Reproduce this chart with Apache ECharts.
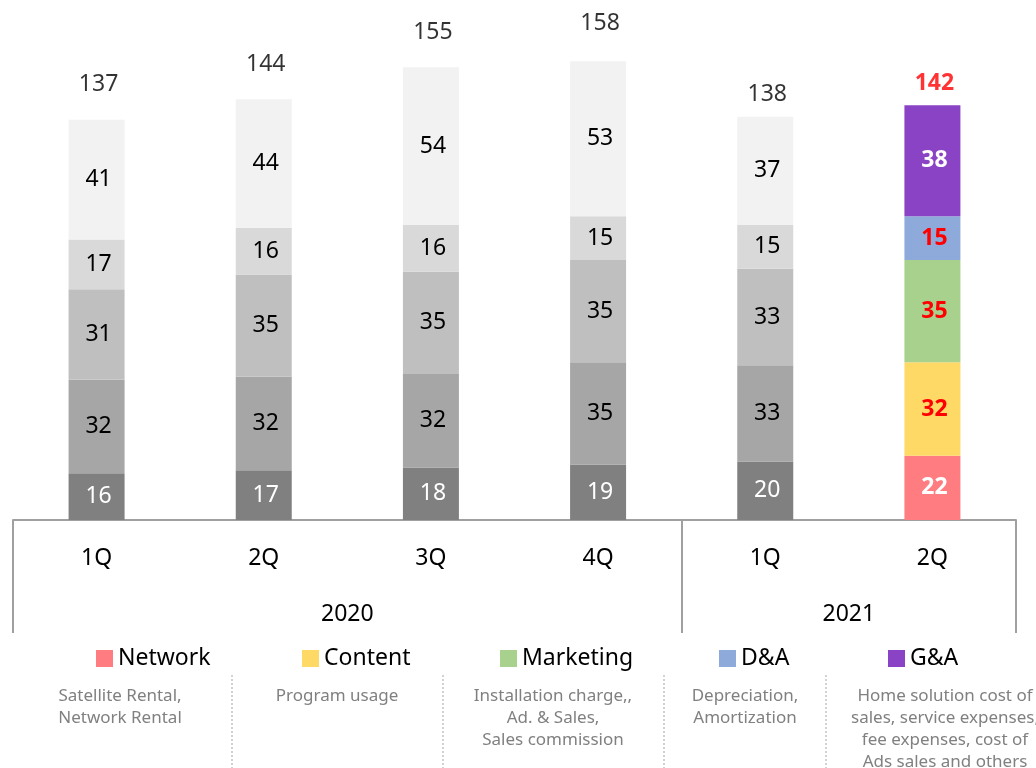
<!DOCTYPE html>
<html><head><meta charset="utf-8">
<script src="https://cdn.jsdelivr.net/npm/echarts@6/dist/echarts.min.js"></script>
<style>html,body{margin:0;padding:0;background:#fff}#c{width:1036px;height:768px}</style>
</head><body><div id="c"></div>
<script>
// ---- data ----
const quarters = ['1Q', '2Q', '3Q', '4Q', '1Q', '2Q'];
const years = ['2020', '2021'];
const quartersPerYear = [4, 2];
const seriesNames = ['Network', 'Content', 'Marketing', 'D&A', 'G&A'];
const network = [16, 17, 18, 19, 20, 22];
const content = [32, 32, 32, 35, 33, 32];
const marketing = [31, 35, 35, 35, 33, 35];
const da = [17, 16, 16, 15, 15, 15];
const ga = [41, 44, 54, 53, 37, 38];
const totals = [137, 144, 155, 158, 138, 142];
const descriptions = [
  'Satellite Rental,\nNetwork Rental',
  'Program usage',
  'Installation charge,,\nAd. & Sales,\nSales commission',
  'Depreciation,\nAmortization',
  'Home solution cost of\nsales, service expenses,\nfee expenses, cost of\nAds sales and others'
];

// ---- styles ----
const FONT = '"Noto Sans", sans-serif';
const colors = ['#ff7c80', '#ffd966', '#a9d18e', '#8eaadb', '#8b43c6'];
const greys = ['#808080', '#a6a6a6', '#bfbfbf', '#d9d9d9', '#f2f2f2'];
const values = [network, content, marketing, da, ga];
const hi = quarters.length - 1;

const boundaries = [0];
quartersPerYear.forEach(n => boundaries.push(boundaries[boundaries.length - 1] + n));
const yearCenters = quartersPerYear.map((n, i) => boundaries[i] + n / 2);

const barSeries = values.map((arr, k) => ({
  name: seriesNames[k],
  type: 'bar',
  stack: 'total',
  barWidth: 56,
  itemStyle: { color: colors[k] },
  data: arr.map((v, i) => {
    const isHi = i === hi;
    let lc = '#000';
    if (isHi) lc = (k === 0 || k === 4) ? '#fff' : '#ff0000';
    else if (k === 0) lc = '#fff';
    return {
      value: v,
      itemStyle: { color: isHi ? colors[k] : greys[k] },
      label: { color: lc, fontWeight: isHi ? 'bold' : 'normal' }
    };
  }),
  label: {
    show: true, position: 'inside', fontFamily: FONT, fontSize: 23, offset: [2, 0],
    formatter: p => p.value
  }
}));

const totalSeries = {
  name: 'total',
  type: 'scatter',
  symbolSize: 1,
  itemStyle: { color: 'rgba(0,0,0,0)' },
  silent: true,
  data: totals.map((v, i) => ({
    value: v,
    label: {
      distance: i < 4 ? 23 : 10,
      color: i === hi ? '#ff0000' : '#000',
      fontWeight: i === hi ? 'bold' : 'normal'
    }
  })),
  label: { show: true, position: 'top', fontFamily: FONT, fontSize: 23, offset: [2, 0], formatter: p => p.value }
};

const legendLeft = [91, 297, 495, 714, 883];
const legends = seriesNames.map((n, k) => ({
  data: [{ name: n, icon: 'rect' }],
  left: legendLeft[k], top: 642,
  itemWidth: 17, itemHeight: 17,
  selectedMode: false,
  textStyle: { fontFamily: FONT, fontSize: 23, color: '#000' }
}));

const descX = [120, 337, 553, 745, 945];
const sepX = [232, 443, 664, 826];
const graphics = [];
descriptions.forEach((t, k) => graphics.push({
  type: 'text', x: descX[k], y: 685, silent: true,
  style: { text: t, x: 0, y: 0, align: 'center', verticalAlign: 'top', font: '17px ' + FONT, fill: '#808080', lineHeight: 22 }
}));
sepX.forEach(x => graphics.push({
  type: 'line', silent: true,
  shape: { x1: x, y1: 675, x2: x, y2: 768 },
  style: { stroke: '#a6a6a6', lineWidth: 1, lineDash: [2, 2] }
}));

const chart = echarts.init(document.getElementById('c'), null, { renderer: 'canvas' });
chart.setOption({
  backgroundColor: '#fff',
  animation: false,
  grid: { left: 13, right: 20, top: 0, bottom: 248, containLabel: false },
  legend: legends,
  xAxis: [
    {
      type: 'category', data: quarters,
      axisLine: { show: true, lineStyle: { color: '#a0a0a0', width: 2 } },
      axisTick: { show: false },
      axisLabel: { fontFamily: FONT, fontSize: 23, color: '#000', margin: 27 }
    },
    {
      type: 'value', min: 0, max: boundaries[boundaries.length - 1], position: 'bottom',
      axisLine: { show: false },
      splitLine: { show: false },
      axisTick: { show: true, customValues: boundaries, length: 113, lineStyle: { color: '#a0a0a0', width: 2 } },
      axisLabel: {
        show: true, customValues: yearCenters, margin: 83,
        fontFamily: FONT, fontSize: 23, color: '#000',
        formatter: v => years[yearCenters.indexOf(v)]
      }
    }
  ],
  yAxis: { type: 'value', min: 0, max: 178, show: false },
  series: [...barSeries, totalSeries],
  graphic: graphics
});
</script>
</body></html>
